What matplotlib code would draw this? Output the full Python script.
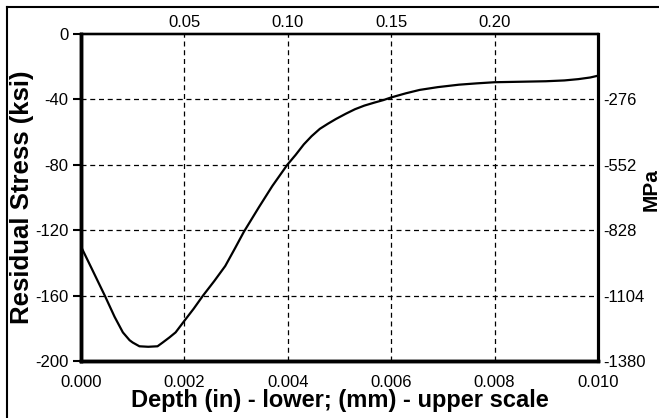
import matplotlib
matplotlib.use("Agg")
import matplotlib.pyplot as plt
from matplotlib.lines import Line2D

plt.rcParams['font.family'] = ['Liberation Sans', 'DejaVu Sans']
plt.rcParams['axes.unicode_minus'] = False

# Data: depth (in) vs residual stress (ksi)
depth_in = [0.0, 0.00020, 0.00046, 0.00065, 0.00081, 0.00094, 0.00100, 0.00113,
            0.00130, 0.00148, 0.00158, 0.00171, 0.00183, 0.0020,
            0.00218, 0.00236, 0.00258, 0.00279, 0.00298, 0.00315, 0.00344,
            0.00370, 0.00399, 0.00415, 0.00431, 0.00446,
            0.00462, 0.00478, 0.00493, 0.00512, 0.00530, 0.00548, 0.00567,
            0.00585, 0.0060, 0.00628, 0.00655, 0.00690, 0.00731,
            0.00765, 0.0080, 0.00850, 0.00899, 0.00935, 0.00962, 0.00985, 0.0100]
stress_ksi = [-130, -143, -160, -173, -182.5, -187.3, -188.7, -191,
              -191.3, -191, -188.7, -185.6, -182.5, -175.4,
              -168, -160, -151, -141.9, -131, -121, -106,
              -93, -80, -74, -67.5, -62.5,
              -58, -54.8, -52, -48.8, -46, -43.8, -42,
              -40.4, -38.8, -36.3, -34.2, -32.5, -31,
              -30.2, -29.5, -29.2, -28.9, -28.4, -27.6, -26.6, -25.5]

x_ticks = [0.000, 0.002, 0.004, 0.006, 0.008, 0.010]
x_tick_labels = ["0.000", "0.002", "0.004", "0.006", "0.008", "0.010"]
y_ticks = [0, -40, -80, -120, -160, -200]
y_tick_labels = ["0", "-40", "-80", "-120", "-160", "-200"]
top_ticks = [0.002, 0.004, 0.006, 0.008]
top_tick_labels = ["0.05", "0.10", "0.15", "0.20"]
right_ticks = [-40, -80, -120, -160, -200]
right_tick_labels = ["-276", "-552", "-828", "-1104", "-1380"]

W, H = 659, 418
fig = plt.figure(figsize=(W / 100, H / 100), dpi=100)
ax = fig.add_axes([81 / W, 1 - 361 / H, (598 - 81) / W, (361 - 34) / H])

ax.plot(depth_in, stress_ksi, color='black', lw=1.6)
ax.set_xlim(0, 0.010)
ax.set_ylim(-200, 0)

ax.set_xticks(x_ticks)
ax.set_xticklabels(x_tick_labels)
ax.set_yticks(y_ticks)
ax.set_yticklabels(y_tick_labels)
ax.tick_params(axis='x', length=0, pad=10, labelsize=12)
ax.tick_params(axis='y', length=6, width=1.5, direction='out', pad=3, labelsize=12)

for v in top_ticks:
    ax.axvline(v, color='black', lw=0.9, ls=(0, (4, 3)), zorder=0)
for v in right_ticks[:-1]:
    ax.axhline(v, color='black', lw=0.9, ls=(0, (4, 3)), zorder=0)

# top (mm) scale
axt = ax.twiny()
axt.set_xlim(ax.get_xlim())
axt.set_xticks(top_ticks)
axt.set_xticklabels(top_tick_labels)
axt.tick_params(axis='x', length=0, pad=3, labelsize=12)

# right (MPa) scale
axr = ax.twinx()
axr.set_ylim(ax.get_ylim())
axr.set_yticks(right_ticks)
axr.set_yticklabels(right_tick_labels)
axr.tick_params(axis='y', length=0, pad=4, labelsize=12)

for a in (ax, axt, axr):
    a.spines['left'].set_linewidth(2.4)
    a.spines['bottom'].set_linewidth(2.4)
    a.spines['right'].set_linewidth(2.2)
    a.spines['top'].set_linewidth(1.6)

ax.set_xlabel("Depth (in) - lower; (mm) - upper scale", fontsize=17,
              fontweight='bold', labelpad=-1)
ax.set_ylabel("Residual Stress (ksi)", fontsize=18.5, fontweight='bold', labelpad=1)
fig.text(651 / W, 1 - 190 / H, "MPa", rotation=90, fontsize=15, fontweight='bold',
         ha='center', va='center')

# outer frame (left and top edges)
fig.add_artist(Line2D([7 / W, 7 / W], [0, 1 - 7 / H], transform=fig.transFigure,
                      color='black', lw=1.5))
fig.add_artist(Line2D([7 / W, 1], [1 - 7 / H, 1 - 7 / H], transform=fig.transFigure,
                      color='black', lw=1.5))

fig.savefig("out.png", dpi=100)
